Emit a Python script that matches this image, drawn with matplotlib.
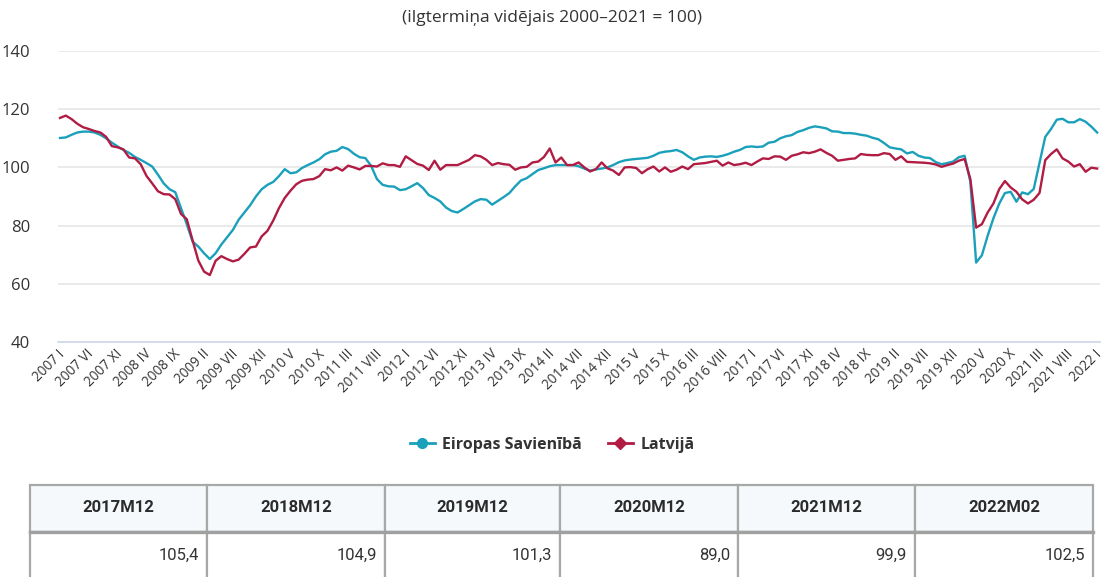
import matplotlib.pyplot as plt
from matplotlib.patches import Rectangle
from matplotlib.lines import Line2D
from matplotlib.transforms import ScaledTranslation

plt.rcParams['font.family'] = ['Open Sans', 'DejaVu Sans']

# Monthly confidence indicator, 2007 I .. 2022 I
eu = [110.1, 110.3, 111.2, 112.0, 112.3, 112.3, 112.0, 111.2, 110.0, 108.5,
      107.2, 106.0, 105.0, 103.6, 102.6, 101.5, 100.3, 97.5, 94.5, 92.5,
      91.5, 86.0, 80.5, 74.5, 72.8, 70.5, 68.5, 70.5, 73.5, 76.0,
      78.5, 82.0, 84.5, 87.0, 90.0, 92.5, 94.0, 95.0, 97.0, 99.4,
      98.0, 98.3, 99.8, 100.8, 101.7, 102.8, 104.5, 105.4, 105.7, 107.0,
      106.3, 104.7, 103.5, 103.2, 100.5, 96.0, 94.0, 93.5, 93.4, 92.2,
      92.5, 93.5, 94.6, 92.9, 90.5, 89.5, 88.3, 86.2, 85.0, 84.5,
      85.7, 87.0, 88.3, 89.1, 88.9, 87.2, 88.5, 89.8, 91.2, 93.5,
      95.5, 96.3, 97.7, 99.1, 99.7, 100.4, 100.8, 100.8, 100.8, 100.8,
      100.4, 99.6, 98.9, 99.3, 99.6, 100.0, 100.8, 101.8, 102.4, 102.7,
      102.9, 103.1, 103.3, 104.0, 105.0, 105.4, 105.6, 106.0, 105.2, 103.8,
      102.6, 103.4, 103.7, 103.8, 103.6, 104.0, 104.6, 105.4, 106.0, 107.0,
      107.2, 107.0, 107.2, 108.5, 108.8, 110.0, 110.7, 111.1, 112.2, 112.8,
      113.6, 114.1, 113.8, 113.4, 112.4, 112.3, 111.8, 111.8, 111.6, 111.2,
      110.9, 110.2, 109.7, 108.4, 106.9, 106.5, 106.2, 104.8, 105.3, 104.0,
      103.4, 103.2, 101.8, 101.1, 101.5, 102.0, 103.5, 104.0, 95.0, 67.3,
      69.8, 76.5, 82.5, 87.5, 91.2, 91.6, 88.2, 91.4, 90.8, 92.6,
      101.5, 110.5, 113.2, 116.4, 116.7, 115.5, 115.5, 116.6, 115.7, 114.0,
      112.0]

lv = [117.0, 117.8, 116.6, 115.0, 113.8, 113.2, 112.5, 112.0, 110.5, 107.3,
      106.9, 106.2, 103.4, 103.1, 101.1, 97.1, 94.5, 91.8, 90.8, 90.7,
      89.1, 84.0, 82.2, 75.0, 68.0, 64.2, 63.0, 67.9, 69.5, 68.5,
      67.7, 68.3, 70.3, 72.5, 72.8, 76.3, 78.2, 81.7, 86.0, 89.5,
      92.0, 94.2, 95.4, 95.8, 96.0, 97.0, 99.4, 99.0, 100.0, 98.9,
      100.6, 100.0, 99.3, 100.5, 100.5, 100.3, 101.4, 100.8, 100.8, 100.2,
      103.8, 102.5, 101.2, 100.6, 99.1, 102.3, 99.2, 100.8, 100.8, 100.8,
      101.7, 102.6, 104.2, 103.8, 102.6, 100.8, 101.5, 101.1, 100.9, 99.2,
      100.0, 100.2, 101.7, 102.0, 103.6, 106.5, 101.7, 103.4, 100.8, 100.8,
      101.7, 100.0, 98.6, 99.4, 101.7, 99.7, 98.9, 97.4, 100.0, 100.1,
      99.8, 98.0, 99.4, 100.3, 98.6, 100.0, 98.5, 99.2, 100.3, 99.4,
      101.1, 101.3, 101.5, 101.9, 102.3, 100.6, 101.7, 100.8, 101.1, 101.6,
      100.8, 102.0, 103.1, 102.9, 103.8, 103.7, 102.6, 104.0, 104.5, 105.2,
      104.9, 105.4, 106.2, 105.0, 104.0, 102.3, 102.6, 102.9, 103.1, 104.6,
      104.3, 104.2, 104.2, 104.9, 104.6, 102.6, 103.8, 101.9, 101.8, 101.7,
      101.6, 101.4, 101.0, 100.2, 100.8, 101.3, 102.3, 102.9, 96.0, 79.3,
      80.5, 84.5, 87.6, 92.5, 95.3, 93.1, 91.6, 89.0, 87.6, 88.9,
      91.2, 102.5, 104.6, 106.2, 103.1, 102.0, 100.3, 101.1, 98.5, 99.9,
      99.6]

table_periods = ['2017M12', '2018M12', '2019M12', '2020M12', '2021M12', '2022M02']
table_values = ['105,4', '104,9', '101,3', '89,0', '99,9', '102,5']

roman = ['I', 'II', 'III', 'IV', 'V', 'VI', 'VII', 'VIII', 'IX', 'X', 'XI', 'XII']
tick_pos = list(range(0, len(eu), 5))
tick_labels = ['%d %s' % (2007 + i // 12, roman[i % 12]) for i in tick_pos]

eu_color = '#1aa0ba'
lv_color = '#b01c44'

fig = plt.figure(figsize=(11.04, 5.77), dpi=100)
ax = fig.add_axes([58 / 1104, 1 - 342 / 577, 1042 / 1104, 291 / 577])

x = range(len(eu))
ax.plot(x, eu, color=eu_color, lw=1.7, solid_joinstyle='round')
ax.plot(x, lv, color=lv_color, lw=1.7, solid_joinstyle='round')

ax.set_ylim(40, 140)
ax.set_xlim(-0.35, 180.5)
ax.set_yticks(range(40, 141, 20))
ax.grid(axis='y', color='#e6e6e6', lw=1.2)
ax.set_axisbelow(True)
for s in ['top', 'right', 'left']:
    ax.spines[s].set_visible(False)
ax.spines['bottom'].set_color('#ccd6eb')
ax.spines['bottom'].set_linewidth(1.2)

ax.tick_params(axis='y', length=0, pad=20, labelsize=12, labelcolor='#333333')
ax.tick_params(axis='x', length=0, pad=0)
ax.set_xticks(tick_pos)
ax.set_xticklabels(tick_labels, rotation=45, ha='right', va='center',
                   rotation_mode='anchor', fontsize=9.8, color='#333333')
shift = ScaledTranslation(3 / 100, -10 / 100, fig.dpi_scale_trans)
for lab in ax.get_xticklabels():
    lab.set_transform(lab.get_transform() + shift)

fig.text(0.5, 1 - 18 / 577, '(ilgtermiņa vidējais 2000–2021 = 100)',
         ha='center', va='center', fontsize=12.5, color='#333333')

# legend with marker on the line
handles = [Line2D([], [], color=eu_color, lw=2, marker='o', ms=7),
           Line2D([], [], color=lv_color, lw=2, marker='D', ms=6)]
leg = fig.legend(handles, ['Eiropas Savienībā', 'Latvijā'], loc='center',
                 bbox_to_anchor=(0.5, 1 - 445 / 577), ncol=2, frameon=False,
                 handlelength=1.6, handletextpad=0.45, columnspacing=1.6,
                 prop={'size': 11.5, 'weight': 'bold'})
for t in leg.get_texts():
    t.set_color('#333333')

# summary table drawn in pixel coordinates
tab = fig.add_axes([0, 0, 1, 1], zorder=-1)
tab.set_xlim(0, 1104)
tab.set_ylim(577, 0)
tab.axis('off')
edges = [30, 207, 385, 560, 738, 915, 1093]
top, mid, bot = 485, 532, 600
for k, (per, val) in enumerate(zip(table_periods, table_values)):
    x0, x1 = edges[k], edges[k + 1]
    tab.add_patch(Rectangle((x0, top), x1 - x0, mid - top, facecolor='#f6f9fb',
                            edgecolor='#a8a8a8', lw=1.6))
    tab.add_patch(Rectangle((x0, mid), x1 - x0, bot - mid, facecolor='white',
                            edgecolor='#a8a8a8', lw=1.6))
    tab.text((x0 + x1) / 2, 508, per, ha='center', va='center', fontsize=12,
             fontweight='bold', family='Roboto', color='#2b2b2b')
    tab.text(x1 - 8, 555, val, ha='right', va='center', fontsize=12,
             family='Roboto', color='#333333')
tab.plot([30, 1093], [mid, mid], color='#a0a0a0', lw=2.4)

fig.savefig('out.png', dpi=100)
